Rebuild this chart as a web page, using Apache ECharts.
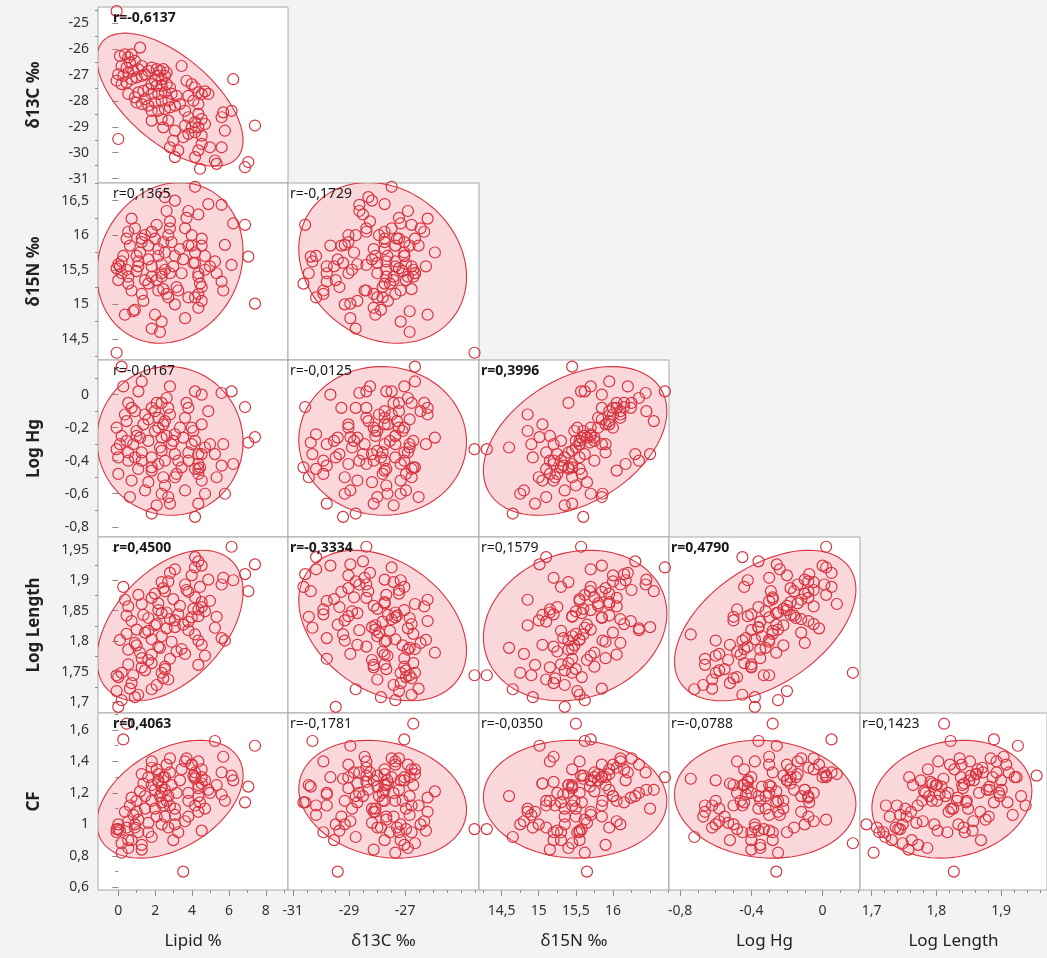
<!DOCTYPE html>
<html>
<head>
<meta charset="utf-8">
<script src="https://cdn.jsdelivr.net/npm/echarts@6/dist/echarts.min.js"></script>
<style>
html,body{margin:0;padding:0;background:#f3f3f3;}
#chart{width:1047px;height:958px;}
</style>
</head>
<body>
<div id="chart"></div>
<script>
// ---- observations (one entry per fish) ----
const lipid = [0.09,0.36,0.54,0.72,1.18,0.18,0.45,0.63,0.90,0.00,
0.27,0.54,0.81,1.08,1.27,-0.09,0.18,0.45,0.72,0.99,
1.27,1.45,1.63,1.81,2.08,2.26,2.44,2.62,2.17,2.35,
2.53,1.99,1.81,2.08,2.35,2.62,2.80,1.63,1.36,1.09,
0.54,0.90,1.45,1.81,2.17,2.53,2.89,3.16,2.71,2.35,
1.99,1.63,1.27,0.99,1.81,2.17,2.53,2.80,3.07,3.34,
3.43,3.70,3.98,4.16,4.34,4.52,4.70,4.88,3.80,4.07,
4.34,3.62,3.80,4.16,4.34,4.52,4.70,3.62,3.98,4.34,
3.80,4.16,4.52,3.52,3.07,2.71,2.35,1.81,2.44,2.98,
2.80,3.07,3.25,4.16,4.34,4.52,4.97,5.60,5.24,5.78,
5.60,6.14,5.69,6.23,7.41,7.05,6.87,4.43,5.33,0.00,-0.09];
const d13C = [-26.26,-26.20,-26.32,-26.20,-25.94,-26.65,-26.71,-26.52,-26.45,-26.97,
-27.03,-26.90,-26.84,-26.77,-26.65,-27.22,-27.35,-27.29,-27.16,-27.09,
-27.03,-26.97,-26.84,-26.71,-26.77,-26.84,-26.77,-26.90,-27.03,-27.16,
-27.03,-27.22,-27.35,-27.41,-27.41,-27.35,-27.48,-27.54,-27.61,-27.67,
-27.73,-27.86,-27.93,-27.73,-27.73,-27.67,-27.73,-27.80,-27.99,-27.99,
-28.06,-28.18,-28.12,-28.06,-28.38,-28.38,-28.31,-28.25,-28.18,-28.12,
-26.65,-27.22,-27.35,-27.48,-27.67,-27.73,-27.63,-27.73,-27.80,-27.99,
-28.12,-28.38,-28.63,-28.82,-28.50,-28.70,-28.89,-28.95,-29.02,-29.02,
-29.27,-29.21,-29.34,-29.40,-29.15,-28.76,-28.70,-28.76,-29.02,-29.53,
-29.79,-30.17,-29.91,-30.17,-29.91,-29.66,-29.79,-29.79,-30.30,-29.15,
-28.63,-28.38,-28.44,-27.16,-28.95,-30.36,-30.56,-30.62,-30.43,-29.47,-24.53];
const d15N = [15.55,14.85,16.05,16.24,15.75,15.45,15.50,15.85,16.10,15.58,
15.70,15.40,14.90,15.55,15.95,15.52,15.62,15.95,15.20,15.48,
15.90,15.35,15.85,15.40,16.15,14.60,15.22,16.35,15.70,14.75,
15.75,15.95,15.55,15.35,15.40,15.15,16.10,15.30,15.05,15.62,
15.30,14.92,16.00,16.05,15.80,15.50,15.90,15.25,15.10,15.45,
14.85,15.65,15.15,15.70,16.05,15.20,16.55,16.20,16.50,15.80,
15.45,16.25,15.85,16.70,15.40,15.95,15.70,16.45,15.10,15.60,
14.95,16.10,16.35,15.75,16.30,15.05,15.50,14.80,16.00,15.45,
15.85,15.60,15.25,15.65,15.00,16.00,15.58,14.65,15.90,15.55,
15.45,15.70,15.20,15.10,15.15,15.85,15.55,15.33,15.62,15.86,
16.44,15.57,15.20,16.17,15.01,15.69,16.15,15.30,15.45,15.35,14.30];
const logHg = [-0.30,-0.12,-0.05,-0.08,-0.26,0.17,-0.28,-0.62,-0.10,-0.48,
0.05,-0.35,-0.30,-0.45,0.08,-0.20,-0.25,-0.16,-0.52,-0.22,
-0.35,-0.58,-0.15,-0.44,-0.05,-0.32,-0.50,-0.02,-0.20,-0.60,
-0.40,-0.10,-0.38,-0.67,-0.05,-0.25,-0.12,-0.28,-0.18,0.02,
-0.40,-0.38,-0.12,-0.46,-0.14,-0.55,-0.30,-0.48,-0.62,-0.34,
-0.22,-0.53,-0.40,-0.25,-0.08,-0.42,-0.16,0.05,-0.36,-0.20,
-0.44,-0.05,-0.30,0.02,-0.45,-0.18,-0.60,-0.10,-0.35,-0.22,
-0.66,-0.14,-0.40,-0.28,-0.36,-0.52,-0.32,-0.58,-0.20,-0.42,
-0.08,-0.74,-0.36,-0.26,-0.50,-0.08,-0.26,-0.72,-0.18,-0.28,
-0.66,-0.24,-0.40,-0.45,-0.48,0.00,-0.30,-0.43,-0.36,-0.60,
0.01,0.02,-0.30,-0.42,-0.257,-0.29,-0.075,-0.44,-0.50,-0.38,-0.33];
const logLength = [1.802,1.868,1.857,1.833,1.781,1.748,1.812,1.722,1.797,1.741,
1.889,1.786,1.744,1.712,1.861,1.718,1.703,1.842,1.731,1.793,
1.772,1.752,1.838,1.764,1.828,1.789,1.739,1.821,1.851,1.748,
1.758,1.878,1.803,1.728,1.897,1.847,1.836,1.817,1.843,1.876,
1.762,1.708,1.814,1.778,1.862,1.754,1.799,1.783,1.737,1.808,
1.826,1.769,1.757,1.819,1.871,1.791,1.882,1.912,1.823,1.858,
1.787,1.884,1.839,1.921,1.801,1.864,1.776,1.901,1.832,1.853,
1.761,1.893,1.818,1.872,1.931,1.794,1.849,1.779,1.908,1.841,
1.881,1.811,1.856,1.827,1.834,1.898,1.846,1.721,1.887,1.869,
1.771,1.918,1.844,1.938,1.852,1.924,1.866,1.805,1.822,1.801,
1.893,1.955,1.904,1.900,1.926,1.882,1.910,1.889,1.840,1.692,1.744];
const cf = [0.96,1.08,1.02,1.17,1.21,0.88,1.64,1.12,1.00,0.97,
1.54,0.85,1.06,0.95,1.32,0.95,0.82,0.98,0.90,1.15,
0.87,1.10,1.30,1.25,1.35,1.18,1.12,1.38,1.28,1.00,
1.30,1.22,1.40,1.05,1.20,1.15,1.42,0.95,1.26,1.03,
0.90,0.98,1.18,1.15,1.32,1.05,1.25,1.20,0.98,1.24,
1.10,1.01,0.84,1.08,1.36,1.27,1.22,1.33,1.10,1.28,
1.35,1.42,1.38,1.30,1.25,1.35,1.28,1.22,1.15,1.31,
1.08,1.40,1.20,1.33,1.18,1.26,1.10,1.02,1.38,1.23,
1.05,1.29,0.96,0.70,1.00,1.18,1.14,0.92,1.30,0.90,
1.12,1.06,0.95,1.12,1.40,1.30,1.20,1.19,1.53,1.15,
1.33,1.31,1.43,1.28,1.50,1.24,1.14,1.14,1.25,1.00,0.97];

// ---- variables, labels ----
const varNames = ['Lipid %','δ13C ‰','δ15N ‰','Log Hg','Log Length','CF'];
// correlation labels per panel [row][col]
const rLabels = [
  ['-0,6137'],
  ['0,1365','-0,1729'],
  ['-0,0167','-0,0125','0,3996'],
  ['0,4500','-0,3334','0,1579','0,4790'],
  ['0,4063','-0,1781','-0,0350','-0,0788','0,1423']
];
const rBold = [
  [true],
  [false,false],
  [false,false,true],
  [true,true,false,true],
  [true,false,false,false,false]
];
// density-ellipse centre / spread, as read for each variable on the x axes and on the y axes
const ellMeanX = [2.8, -27.80, 15.49, -0.322, 1.824, null];
const ellSDX   = [1.62, 1.22, 0.505, 0.208, 0.0505, null];
const ellMeanY = [null, -27.95, 15.60, -0.28, 1.8256, 1.16];
const ellSDY   = [null, 1.05, 0.475, 0.184, 0.0505, 0.153];

// axis ranges per variable
const axisRanges = [[-1.1, 9.2], [-31.17, -24.37], [14.195, 16.755], [-0.862, 0.21], [1.682, 1.971], [0.583, 1.708]];
// tick labels
const xLabelVals = [[0,2,4,6,8], [-31,-29,-27], [14.5,15,15.5,16], [-0.8,-0.4,0], [1.7,1.8,1.9]];
const xMinorVals = [[1,3,5,7,9], [-30.5,-30,-29.5,-28.5,-28,-27.5,-26.5,-26,-25.5,-25,-24.5],
  [14.25,14.75,15.25,15.75,16.25,16.5,16.75], [-0.7,-0.6,-0.5,-0.3,-0.2,-0.1,0.1,0.2],
  [1.72,1.74,1.76,1.78,1.82,1.84,1.86,1.88,1.92,1.94,1.96]];
const yLabelVals = [null, [-31,-30,-29,-28,-27,-26,-25], [14.5,15,15.5,16,16.5], [-0.8,-0.6,-0.4,-0.2,0],
  [1.7,1.75,1.8,1.85,1.9,1.95], [0.6,0.8,1,1.2,1.4,1.6]];
const yMinorVals = [null, [-30.5,-29.5,-28.5,-27.5,-26.5,-25.5,-24.5], [14.25,14.75,15.25,15.75,16.25,16.75],
  [-0.7,-0.5,-0.3,-0.1,0.1], [1.725,1.775,1.825,1.875,1.925], [0.7,0.9,1.1,1.3,1.5,1.7]];

// ---- layout ----
const colEdges = [[98,288],[288,479],[479,669],[669,860],[860,1051]];
const rowEdges = [[7,183],[183,360],[360,537],[537,713],[713,890]];
const FONT = '"Noto Sans", "Open Sans", sans-serif';
const RED = '#d8343f';

const vars = [lipid, d13C, d15N, logHg, logLength, cf];
const fmt = v => String(v).replace('.', ',');

function ellipse(xv, yv, r) {
  const c = Math.sqrt(5.991);
  const pts = [];
  const a = Math.sqrt(1 + r), b = Math.sqrt(1 - r);
  for (let k = 0; k <= 96; k++) {
    const t = 2 * Math.PI * k / 96;
    const u = c * (a * Math.cos(t) + b * Math.sin(t)) / Math.SQRT2;
    const v = c * (a * Math.cos(t) - b * Math.sin(t)) / Math.SQRT2;
    pts.push([ellMeanX[xv] + ellSDX[xv] * u, ellMeanY[yv] + ellSDY[yv] * v]);
  }
  return pts;
}

const grids = [], xAxes = [], yAxes = [], series = [], graphics = [];
let gi = 0;
for (let row = 0; row < 5; row++) {
  const yv = row + 1;
  for (let col = 0; col <= row; col++) {
    const xv = col;
    const L = colEdges[col][0], R = colEdges[col][1], T = rowEdges[row][0], B = rowEdges[row][1];
    grids.push({left: L, top: T, width: R - L, height: B - T, show: true,
      backgroundColor: '#ffffff', borderColor: '#a8a8a8', borderWidth: 1, containLabel: false});
    const isBottom = row === 4, isLeft = col === 0;
    const xi = xAxes.length;
    xAxes.push({gridIndex: gi, type: 'value', min: axisRanges[xv][0], max: axisRanges[xv][1], position: 'bottom',
      show: isBottom, axisLine: {show: false}, splitLine: {show: false},
      axisTick: {show: true, customValues: xLabelVals[xv], length: 6, lineStyle: {color: '#8c8c8c'}},
      axisLabel: {show: true, customValues: xLabelVals[xv], formatter: fmt, margin: 14, fontSize: 14, color: '#333', fontFamily: FONT},
      name: isBottom ? varNames[xv] : '', nameLocation: 'middle', nameGap: 43,
      nameTextStyle: {fontSize: 17, color: '#222', fontFamily: FONT}});
    if (isBottom) {
      xAxes.push({gridIndex: gi, type: 'value', min: axisRanges[xv][0], max: axisRanges[xv][1], position: 'bottom',
        axisLine: {show: false}, splitLine: {show: false}, axisLabel: {show: false},
        axisTick: {show: true, customValues: xMinorVals[xv], length: 3, lineStyle: {color: '#8c8c8c'}}});
    }
    const yi = yAxes.length;
    yAxes.push({gridIndex: gi, type: 'value', min: axisRanges[yv][0], max: axisRanges[yv][1], position: 'left',
      show: isLeft, axisLine: {show: false}, splitLine: {show: false},
      axisTick: {show: true, customValues: yLabelVals[yv], length: 6, lineStyle: {color: '#8c8c8c'}},
      axisLabel: {show: true, customValues: yLabelVals[yv], formatter: fmt, margin: 9, fontSize: 14, color: '#333', fontFamily: FONT},
      name: isLeft ? varNames[yv] : '', nameLocation: 'middle', nameGap: 55, nameRotate: 90,
      nameTextStyle: {fontSize: 17, fontWeight: 'bold', color: '#222', fontFamily: FONT}});
    if (isLeft) {
      yAxes.push({gridIndex: gi, type: 'value', min: axisRanges[yv][0], max: axisRanges[yv][1], position: 'left',
        axisLine: {show: false}, splitLine: {show: false}, axisLabel: {show: false},
        axisTick: {show: true, customValues: yMinorVals[yv], length: 3, lineStyle: {color: '#8c8c8c'}}});
    }
    const r = parseFloat(rLabels[row][col].replace(',', '.'));
    const ell = ellipse(xv, yv, r);
    series.push({type: 'custom', xAxisIndex: xi, yAxisIndex: yi, silent: true, z: 1,
      data: [[ellMeanX[xv], ellMeanY[yv]]],
      renderItem: function (params, api) {
        const cs = params.coordSys;
        return {type: 'polygon', shape: {points: ell.map(p => api.coord(p))},
          style: {fill: 'rgba(232,72,92,0.22)', stroke: RED, lineWidth: 1.1},
          clipPath: {type: 'rect', shape: {x: cs.x, y: cs.y, width: cs.width, height: cs.height}}};
      }});
    const pts = vars[xv].map((x, k) => [x, vars[yv][k]]);
    series.push({type: 'scatter', xAxisIndex: xi, yAxisIndex: yi, z: 2, clip: true, silent: true,
      symbol: 'circle', symbolSize: 11, data: pts,
      itemStyle: {color: 'rgba(0,0,0,0)', borderColor: RED, borderWidth: 1.2, opacity: 1}});
    graphics.push({type: 'text', left: L + (isLeft ? 15 : 2), top: T + 4, z: 100,
      style: {text: 'r=' + rLabels[row][col], font: (rBold[row][col] ? 'bold ' : '') + '14px ' + FONT, fill: '#1a1a1a'}});
    gi++;
  }
}

const chart = echarts.init(document.getElementById('chart'), null, {renderer: 'canvas'});
chart.setOption({
  backgroundColor: '#f3f3f3',
  animation: false,
  grid: grids, xAxis: xAxes, yAxis: yAxes, series: series, graphic: graphics
});
</script>
</body>
</html>
